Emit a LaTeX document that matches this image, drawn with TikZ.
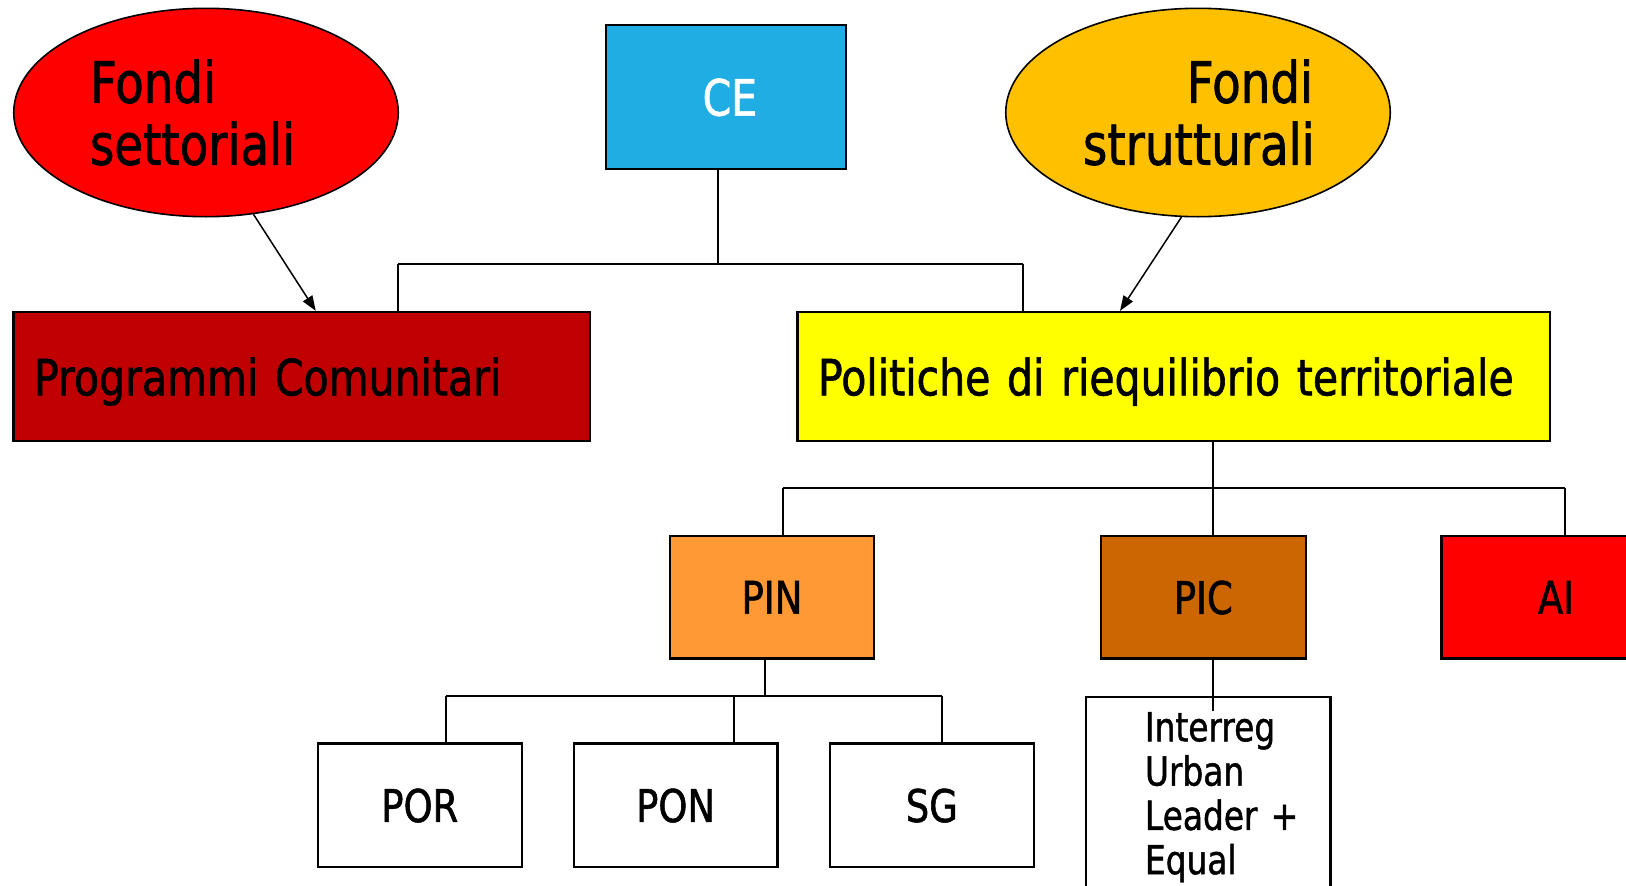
\documentclass[tikz,border=0pt]{standalone}
\usepackage{fontspec}
\setmainfont{DejaVu Sans}[FakeStretch=0.82,FakeBold=1.2,WordSpace=0.8]
\usetikzlibrary{arrows.meta,shapes.geometric}
\definecolor{fsred}{RGB}{255,0,0}
\definecolor{fsorange}{RGB}{255,192,0}
\definecolor{ceblue}{RGB}{31,173,228}
\definecolor{progred}{RGB}{192,0,0}
\definecolor{polyellow}{RGB}{255,255,0}
\definecolor{pinorange}{RGB}{255,153,51}
\definecolor{picbrown}{RGB}{204,102,0}
\definecolor{aired}{RGB}{255,0,0}
\tikzset{
  box/.style={draw=black, line width=2.2pt, rectangle, inner sep=0pt},
  flat/.style={text depth=0pt},
  oval/.style={draw=black, line width=1.6pt, ellipse, inner sep=0pt, minimum width=384.5pt, minimum height=208.4pt},
  link/.style={draw=black, line width=2pt},
  arr/.style={draw=black, line width=1.5pt, -{Triangle[length=15pt,width=11pt]}},
  big/.style={font=\fontsize{57}{62}\selectfont},
  mid/.style={font=\fontsize{50}{60}\selectfont},
  small/.style={font=\fontsize{45}{54}\selectfont},
  tiny/.style={font=\fontsize{40}{44.3}\selectfont},
  leaf/.style={box, flat, minimum width=203.6pt, minimum height=123.5pt, small},
  sub/.style={box, flat, minimum width=204pt, minimum height=122.5pt, small},
}
\begin{document}
\begin{tikzpicture}[x=1pt,y=-1pt]
\useasboundingbox (0,0) rectangle (1626,886);
\clip (0,0) rectangle (1626,886);
\fill[white] (0,0) rectangle (1626,886);

% top level
\node[oval, fill=fsred, text width=232pt, align=left, big] (fs) at (206,112.5) {Fondi\\settoriali};
\node[oval, fill=fsorange, text width=230pt, align=right, big] (fst) at (1198,112.5) {Fondi\\strutturali};
\node[box, flat, fill=ceblue, text=white, minimum width=240.6pt, minimum height=144.1pt, mid] (ce) at (725.9,97) {\hspace*{8pt}CE};

% second level
\node[box, flat, fill=progred, minimum height=128.7pt, text width=535.5pt, inner xsep=20.5pt, align=left, mid] (prog) at (301.75,376.35) {Programmi Comunitari};
\node[box, flat, fill=polyellow, minimum height=128.7pt, text width=711.5pt, inner xsep=20.5pt, align=left, mid] (pol) at (1173.75,376.35) {Politiche di riequilibrio territoriale};

% third level
\node[sub, fill=pinorange] (pin) at (772,597.25) {PIN};
\node[sub, fill=picbrown, minimum width=204.6pt] (pic) at (1203.3,597.25) {PIC};
\node[sub, fill=aired, minimum width=229pt] (ai) at (1556,597.25) {AI};

% fourth level
\node[leaf, fill=white] (por) at (419.8,805.25) {POR};
\node[leaf, fill=white] (pon) at (675.6,805.25) {PON};
\node[leaf, fill=white] (sg) at (931.8,805.25) {SG};
\node[box, fill=white, anchor=north, text width=204.8pt, inner xsep=20pt, inner ysep=15pt, align=left, tiny] (ini) at (1208.1,696) {\leftskip=39.3pt Interreg\\Urban\\Leader +\\Equal\par};

% CE connector
\coordinate (b1) at (717.6,264.4);
\coordinate (b1l) at (398,264.4);
\coordinate (b1r) at (1022.5,264.4);
\draw[link] (ce.south -| b1) -- (b1);
\draw[link] (b1l) -- (b1r);
\draw[link] (b1l) -- (b1l |- prog.north);
\draw[link] (b1r) -- (b1r |- pol.north);

% arrows from funds
\draw[arr] (fs.-65) -- ([xshift=14pt]prog.north);
\draw[arr] (fst.-99) -- ([xshift=-53.75pt]pol.north);

% Politiche connector
\coordinate (b2) at (1213,488.4);
\coordinate (b2l) at (783,488.4);
\coordinate (b2r) at (1565,488.4);
\draw[link] (pol.south -| b2) -- (b2 |- pic.north);
\draw[link] (b2l) -- (b2r);
\draw[link] (b2l) -- (b2l |- pin.north);
\draw[link] (b2r) -- (b2r |- ai.north);

% PIN connector
\coordinate (b3) at (765,696);
\coordinate (b3l) at (446,696);
\coordinate (b3m) at (734,696);
\coordinate (b3r) at (941.6,696);
\draw[link] (pin.south -| b3) -- (b3);
\draw[link] (b3l) -- (b3r);
\draw[link] (b3l) -- (b3l |- por.north);
\draw[link] (b3m) -- (b3m |- pon.north);
\draw[link] (b3r) -- (b3r |- sg.north);

% PIC connector
\coordinate (c4) at (1213,711.4);
\draw[link] (pic.south -| c4) -- (c4);
\end{tikzpicture}
\end{document}
